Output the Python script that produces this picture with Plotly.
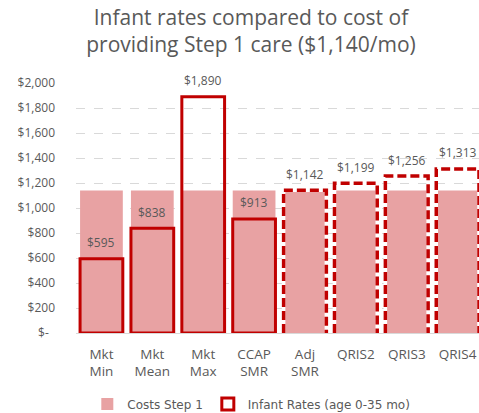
import plotly.graph_objects as go

# Categories, costs and infant rates
categories = ["Mkt<br>Min", "Mkt<br>Mean", "Mkt<br>Max", "CCAP<br>SMR", "Adj<br>SMR",
              "QRIS2", "QRIS3", "QRIS4"]
step1_cost = [1140, 1140, 1140, 1140, 1140, 1140, 1140, 1140]
infant_rates = [595, 838, 1890, 913, 1142, 1199, 1256, 1313]
projected = [False, False, False, False, True, True, True, True]

y_ticks = [0, 200, 400, 600, 800, 1000, 1200, 1400, 1600, 1800, 2000]
y_ticktext = ["$-\u00a0\u00a0" if v == 0 else f"${v:,}" for v in y_ticks]

PINK = "#E8A2A3"
RED = "#C00000"
GREY = "#595959"
FONT = "Open Sans"
LEGEND_FONT = "DejaVu Sans"
BAR_W = 0.84

idx = list(range(len(categories)))

fig = go.Figure()

# Cost of Step 1 care (filled bars)
fig.add_trace(go.Bar(
    x=idx, y=step1_cost, width=BAR_W, name="Costs Step 1",
    marker=dict(color=PINK, line=dict(width=0)),
    hoverinfo="skip",
))

# Observed rates: outlined bars
solid_x = [i for i in idx if not projected[i]]
solid_y = [infant_rates[i] for i in solid_x]
fig.add_trace(go.Bar(
    x=solid_x, y=solid_y, width=BAR_W, name="Infant Rates (age 0-35 mo)",
    marker=dict(color="rgba(0,0,0,0)", line=dict(color=RED, width=3)),
))

# Projected rates: dashed outlines drawn as open rectangles
dx, dy = [], []
for i in idx:
    if projected[i]:
        l, r = i - BAR_W / 2, i + BAR_W / 2
        v = infant_rates[i]
        dx += [l, l, r, r, None]
        dy += [0, v, v, 0, None]
fig.add_trace(go.Scatter(x=dx, y=dy, mode="lines", showlegend=False,
                         line=dict(color="white", width=3.5), hoverinfo="skip"))
fig.add_trace(go.Scatter(x=dx, y=dy, mode="lines", showlegend=False,
                         line=dict(color=RED, width=3.5, dash="9px,4px"),
                         hoverinfo="skip"))

# Value labels above the rate bars
for i in idx:
    fig.add_annotation(x=i, y=infant_rates[i], text=f"${infant_rates[i]:,}",
                       showarrow=False, yshift=16,
                       font=dict(family=FONT, size=12, color=GREY))

fig.update_layout(
    width=479, height=413,
    margin=dict(l=76, r=0, t=83, b=80, autoexpand=False),
    paper_bgcolor="white", plot_bgcolor="white",
    barmode="overlay",
    title=dict(text="Infant rates compared to cost of<br>providing Step 1 care ($1,140/mo)",
               x=0.524, xanchor="center", y=0.94, yanchor="middle",
               font=dict(family=FONT, size=21, color=GREY)),
    font=dict(family=FONT, size=12, color=GREY),
    xaxis=dict(tickvals=idx, ticktext=categories, range=[-0.5, 7.42],
               showgrid=False, zeroline=False, showline=False, ticks="",
               ticklabelstandoff=11, automargin=False,
               tickfont=dict(size=13.5, color=GREY)),
    yaxis=dict(range=[0, 2000], tickvals=y_ticks, ticktext=y_ticktext,
               showgrid=True, gridcolor="#D9D9D9", griddash="dash", gridwidth=1,
               zeroline=True, zerolinecolor="#D9D9D9", zerolinewidth=1,
               showline=False, ticks="", ticklabelstandoff=20, automargin=False,
               tickfont=dict(size=12, color=GREY)),
    legend=dict(orientation="h", x=0.435, xanchor="center",
                yref="container", y=0.022, yanchor="middle",
                font=dict(family=LEGEND_FONT, size=12, color=GREY),
                itemwidth=30, traceorder="normal"),
)

fig.write_html("out.html")
